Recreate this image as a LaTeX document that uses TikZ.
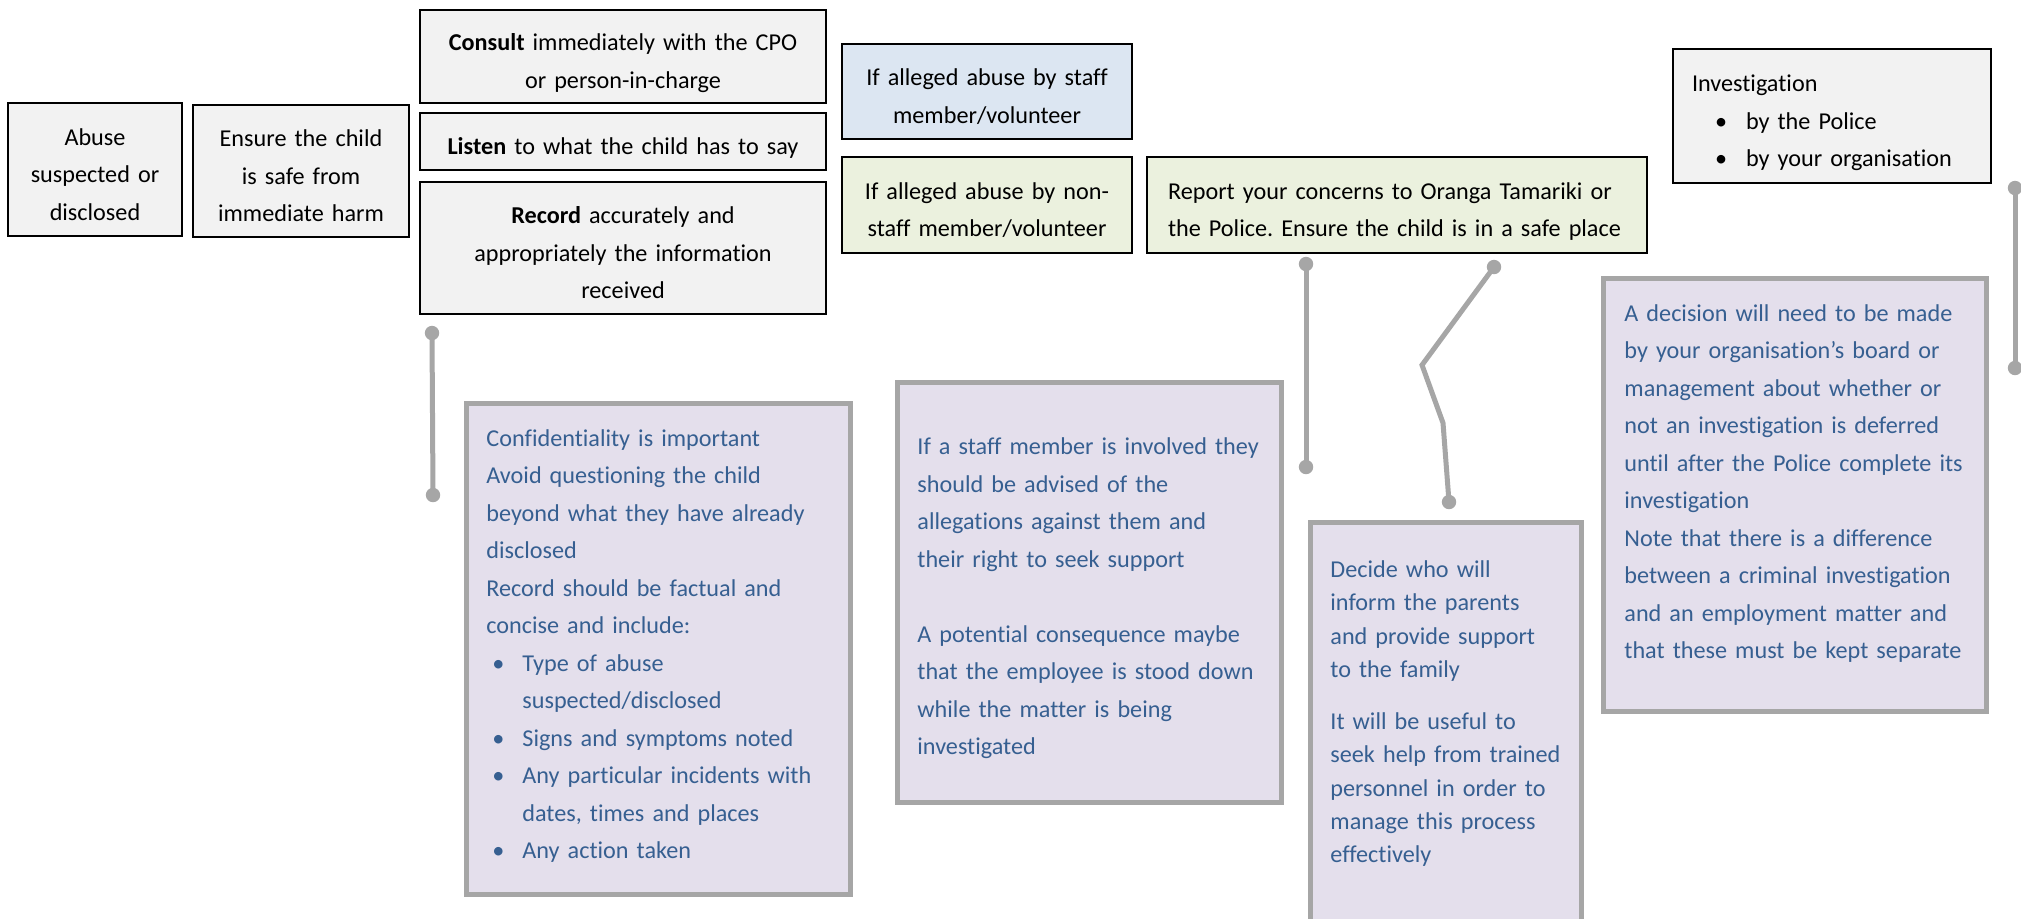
\documentclass[tikz,border=0pt]{standalone}
\usepackage{fontspec}
\setmainfont{Carlito}[Ligatures={NoCommon}]
\definecolor{greyfill}{HTML}{F2F2F2}
\definecolor{bluefill}{HTML}{DCE6F2}
\definecolor{greenfill}{HTML}{EBF1DE}
\definecolor{purplefill}{HTML}{E4DFEC}
\definecolor{boxgray}{HTML}{A6A6A6}
\definecolor{txtblue}{HTML}{365F91}
\newcommand\tstrut{\rule{0pt}{18.7pt}}
\newcommand\bstrut{\rule[-5.6pt]{0pt}{5.6pt}}
\newcommand\bul[2]{\hspace*{#1}\makebox[#2][l]{\textbullet}}
\tikzset{
  basefont/.style={font=\fontsize{12.1pt}{18.75pt}\selectfont\frenchspacing},
  topbox/.style={basefont, draw=black, line width=0.9pt, fill=greyfill, align=center, inner sep=0pt,
    execute at begin node=\tstrut, execute at end node=\bstrut},
  pbox/.style={draw=boxgray, line width=2.6pt, fill=purplefill, inner sep=0pt},
  ptext/.style={basefont, text=txtblue, align=left, inner sep=0pt, anchor=base west},
  conn/.style={draw=boxgray, line width=2.5pt, line join=miter},
  dot/.style={fill=boxgray}
}
\begin{document}
\begin{tikzpicture}[x=0.5pt, y=-0.5pt]
\useasboundingbox (0,0) rectangle (2021,918);
\clip (0,0) rectangle (2021,918);
\fill[white] (0,0) rectangle (2021,918);

% top row boxes
\node[topbox, text width=87pt, minimum height=66.5pt] (abuse) at (95,169.5) {Abuse\\suspected or\\disclosed};
\node[topbox, text width=108pt, minimum height=66pt] (ensure) at (301,171) {Ensure the child\\is safe from\\immediate harm};
\node[topbox, text width=203pt, minimum height=46.5pt] (consult) at (623,56.5) {\textbf{Consult} immediately with the CPO\\or person-in-charge};
\node[topbox, text width=203pt, minimum height=28.5pt] (listen) at (623,141.5) {\textbf{Listen} to what the child has to say};
\node[topbox, text width=203pt, minimum height=66pt] (record) at (623,248) {\textbf{Record} accurately and\\appropriately the information\\received};
\node[topbox, fill=bluefill, text width=145pt, minimum height=47.5pt] (staff) at (987,91.5) {If alleged abuse by staff\\member/volunteer};
\node[topbox, fill=greenfill, text width=145pt, minimum height=48pt] (nonstaff) at (987,205) {If alleged abuse by non-\\staff member/volunteer};
\node[topbox, fill=greenfill, align=left, text width=229pt, inner xsep=10.5pt, minimum height=48pt] (report) at (1397,205) {\mbox{Report your concerns to Oranga Tamariki or}\\\mbox{the Police. Ensure the child is in a safe place}};
\node[topbox, align=left, text width=140pt, inner xsep=9.5pt, minimum height=67pt] (invest) at (1832,116) {Investigation\\\bul{11.5pt}{15.5pt}by the Police\\\bul{11.5pt}{15.5pt}by your organisation};

% purple boxes
\node[pbox, minimum width=192pt, minimum height=245.5pt] (conf) at (658.5,649) {};
\node[ptext, text width=180pt] (conftext) at (486,446) {Confidentiality is important\\
Avoid questioning the child\\
beyond what they have already\\
disclosed\\
Record should be factual and\\
concise and include:\\
\bul{3pt}{15pt}Type of abuse\\
\hspace*{18pt}suspected/disclosed\\
\bul{3pt}{15pt}Signs and symptoms noted\\
\bul{3pt}{15pt}Any particular incidents with\\
\hspace*{18pt}dates, times and places\\
\bul{3pt}{15pt}Any action taken};

\node[pbox, minimum width=192pt, minimum height=210pt] (involved) at (1089.5,592.5) {};
\node[ptext, text width=180pt] (involvedtext) at (917,454.6) {If a staff member is involved they\\
should be advised of the\\
allegations against them and\\
their right to seek support\\[18.75pt]
A potential consequence maybe\\
that the employee is stood down\\
while the matter is being\\
investigated};

\node[pbox, minimum width=135.5pt, minimum height=218.75pt] (decide) at (1446,741.25) {};
\node[ptext, text width=125pt, font=\fontsize{12.1pt}{16.65pt}\selectfont] (decidetext) at (1330,577.6) {Decide who will\\
inform the parents\\
and provide support\\
to the family\\[9.35pt]
It will be useful to\\
seek help from trained\\
personnel in order to\\
manage this process\\
effectively};

\node[pbox, minimum width=191.5pt, minimum height=216.5pt] (decision) at (1795,495) {};
\node[ptext, text width=180pt] (decisiontext) at (1624,321.2) {A decision will need to be made\\
by your organisation’s board or\\
management about whether or\\
not an investigation is deferred\\
until after the Police complete its\\
investigation\\
Note that there is a difference\\
between a criminal investigation\\
and an employment matter and\\
that these must be kept separate};

% connectors
\coordinate (a1) at (432,333);
\coordinate (a2) at (433,495);
\coordinate (b1) at (1306,264);
\coordinate (b2) at (1306,467);
\coordinate (z1) at (1494,267);
\coordinate (z2) at (1422,365);
\coordinate (z3) at (1443,423);
\coordinate (z4) at (1449,502);
\coordinate (r1) at (2015,188);
\coordinate (r2) at (2015,368);
\draw[conn] (a1) -- (a2);
\draw[conn] (b1) -- (b2);
\draw[conn] (z1) -- (z2) -- (z3) -- (z4);
\draw[conn] (r1) -- (r2);
\foreach \p in {a1,a2,b1,b2,z1,z4,r1,r2}
  \fill[dot] (\p) circle[radius=3.6pt];
\end{tikzpicture}
\end{document}
